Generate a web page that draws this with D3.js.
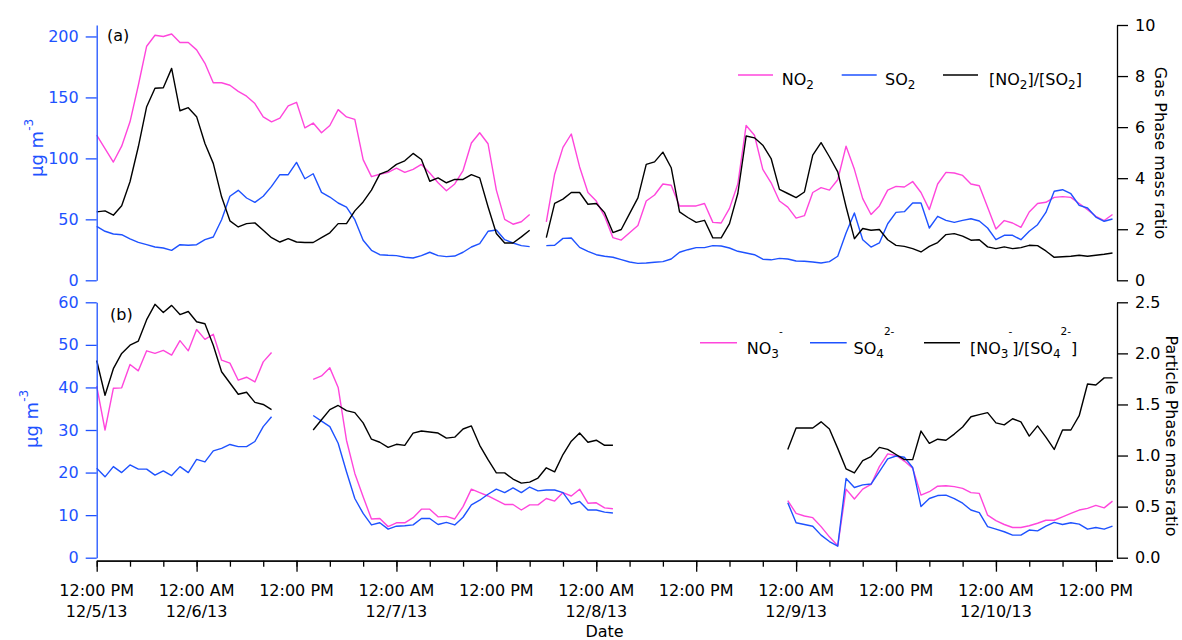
<!DOCTYPE html>
<html><head><meta charset="utf-8">
<script src="https://cdn.jsdelivr.net/npm/d3@7"></script>
<style>body{margin:0;background:#fff} text{font-family:"DejaVu Sans",sans-serif}</style>
</head><body><svg id="c" width="1182" height="640"></svg>
<script>
// hourly data starting 12:00 PM 12/5/13
const startTime = new Date(2013, 11, 5, 12, 0);
const endTime = new Date(2013, 11, 10, 14, 0);

const no2 = [
119,108,97,110,130,160,192,201,200,202,
195,195,189,178,162,162,160,155,151,145,
134,130,133,143,146,125,129,121,127,140,
134,132,99,85,87,88.5,92,88.5,91,95,
88,80,73.5,79,90,112.6,121,112,74,50,
46,48,54,null,48,87,109,120,93,72,
65,52.5,35,33,39,45,65,70,79,78,
61,61,61,63,47.5,47,59,79,127,119,
91,80,65,60,51,53,72,76,74,82.5,
110,91,67,54,61,74,77,76.5,81,72,
58,79,88.5,88,86,79,77.6,60,42,49,
47,43.4,56,63,64,68,68.6,68,63,58,
52.5,49,54];

const so2 = [
44.3,40.2,38,37.4,33.9,31.1,29.2,27.3,26.5,24.6,
29.2,28.7,29.2,33.3,35.5,49.7,68.9,73.8,67.5,63.9,
68.9,77,86.6,86.6,96.7,83.3,87.4,72.1,68.3,63.4,
60.1,49.7,32.8,24.6,21,20.5,20.2,18.9,18.3,20.2,
23,20.2,19.4,19.9,23,27.3,30,40.2,41.3,33.3,
30.6,28.4,27.6,null,28.4,28.7,34.4,34.7,27,23.8,
21,19.7,18.9,16.9,15,13.9,14.2,14.8,15.3,17.5,
23,25.1,26.8,26.8,28.4,28.1,26.5,23.8,22.4,21,
17.3,16.8,18,17.5,15.8,15.6,15,14.2,15.3,19.7,
38.8,55.2,33.3,27.3,30.6,46.4,55.7,56.3,63.4,63.4,
42.9,52.5,49.2,47.5,49.2,50.5,48.6,42.9,33.3,36.9,
36.9,33.3,40.2,45.6,55.7,73,74.3,71,61.5,59.3,
51.9,48.4,50.3];

const gasRatio = [
2.68,2.72,2.55,2.92,3.86,5.23,6.8,7.52,7.54,8.3,
6.64,6.76,6.41,5.36,4.58,3.27,2.33,2.09,2.22,2.25,
1.96,1.67,1.5,1.63,1.5,1.48,1.48,1.67,1.86,2.22,
2.22,2.72,3.07,3.53,4.16,4.29,4.54,4.68,4.97,4.73,
3.88,4.01,3.82,3.95,3.95,4.14,4.01,2.88,1.83,1.46,
1.46,1.7,1.96,null,1.67,3.01,3.18,3.44,3.44,2.98,
3.01,2.65,1.87,1.99,2.61,3.23,4.54,4.64,5.02,4.41,
2.68,2.46,2.27,2.35,1.66,1.66,2.22,3.4,5.65,5.58,
5.29,4.77,3.56,3.4,3.24,3.46,4.9,5.39,4.84,4.25,
2.88,1.63,2.03,1.96,1.99,1.59,1.37,1.33,1.24,1.11,
1.33,1.48,1.79,1.83,1.73,1.57,1.59,1.31,1.24,1.31,
1.24,1.28,1.37,1.36,1.15,0.9,0.92,0.94,0.98,0.94,
0.98,1.02,1.07];

const no3 = [
40.3,30,39.8,39.9,45.4,43.9,48.6,48,48.7,47.6,
51,48.6,53.6,51.3,52.5,46.4,45.7,41.7,42.4,41.3,
46,48.2,null,null,null,null,41.9,42.7,44.6,40,
27.6,19.8,14.3,9.1,9.2,7.3,8.2,8.2,9.4,11.4,
11.4,9.6,9.7,9.1,12,16.1,15.3,14.5,13.5,12.5,
12.5,11.2,12.4,12.4,13.9,13.3,15.3,14.5,16.1,12.8,
12.9,11.7,11.5,null,null,null,null,null,null,null,
null,null,null,null,null,null,null,null,null,null,
null,null,null,13.4,10.4,9.8,9.4,7.3,4.9,2.8,
16.1,13.8,16.1,17.2,21.4,24.4,24,22.7,21,14.7,
15.5,16.8,16.9,16.7,16.3,15.3,15.1,10,8.7,7.8,
7.1,7.1,7.5,8.1,8.8,8.8,9.6,10.4,11.2,11.6,
12.3,11.7,13.3];

const so4 = [
21,19,21.4,20,21.8,20.8,20.8,19.4,20.4,19.3,
21.4,20,23.1,22.5,25.1,25.7,26.6,26.1,26.1,27.3,
30.8,33.1,null,null,null,null,33.4,32.1,30.8,26.9,
20.2,13.9,10.4,7.7,8.2,6.7,7.4,7.5,7.7,9.2,
9.2,7.8,8.3,7.7,9.5,12.4,13.5,14.9,16.1,15.3,
16.4,15.3,16.6,15.7,15.9,15.9,15.3,12.6,13.2,11.2,
11.2,10.7,10.5,null,null,null,null,null,null,null,
null,null,null,null,null,null,null,null,null,null,
null,null,null,12.9,8.2,7.8,7.4,5.3,3.8,2.7,
18.6,16.5,17.1,17.3,20.2,23.2,23.9,23.6,21.2,12,
13.9,14.6,14.7,13.9,12.8,11.2,10.6,7.3,6.7,6.1,
5.3,5.3,6.5,6.3,7.4,8.3,7.8,8.2,7.9,6.7,
7.1,6.7,7.4];

const partRatio = [
1.93,1.59,1.85,2.0,2.08,2.12,2.33,2.48,2.4,2.47,
2.38,2.41,2.31,2.29,2.08,1.82,1.71,1.6,1.62,1.52,
1.5,1.45,null,null,null,null,1.25,1.35,1.45,1.49,
1.44,1.42,1.32,1.16,1.13,1.08,1.11,1.1,1.22,1.24,
1.23,1.22,1.17,1.18,1.26,1.29,1.1,0.96,0.83,0.83,
0.77,0.73,0.74,0.78,0.88,0.84,1.01,1.14,1.22,1.13,
1.15,1.1,1.1,null,null,null,null,null,null,null,
null,null,null,null,null,null,null,null,null,null,
null,null,null,1.06,1.27,1.27,1.27,1.33,1.26,1.07,
0.87,0.83,0.95,0.99,1.08,1.06,1.01,0.96,0.96,1.24,
1.12,1.16,1.15,1.21,1.28,1.38,1.4,1.42,1.32,1.3,
1.36,1.33,1.19,1.29,1.18,1.06,1.25,1.25,1.39,1.7,
1.69,1.76,1.76];

const gasTicksL = [0,50,100,150,200];
const gasTicksR = [0,2,4,6,8,10];
const partTicksL = [0,10,20,30,40,50,60];
const partTicksR = [0,0.5,1.0,1.5,2.0,2.5];

const PINK = "#ff46dc", BLUE = "#1e52ff", BLACK = "#000";
const FS = 16;
const svg = d3.select("#c");
const times = no2.map((d, i) => d3.timeHour.offset(startTime, i));

const x = d3.scaleTime().domain([startTime, endTime]).range([96.7, 1112.5]);
const yA = d3.scaleLinear().domain([0, 209.4]).range([280.3, 25]);
const yAR = d3.scaleLinear().domain([0, 10]).range([280.3, 25]);
const yB = d3.scaleLinear().domain([0, 60]).range([557.7, 302.3]);
const yBR = d3.scaleLinear().domain([0, 2.5]).range([557.7, 302.3]);

function drawSeries(vals, ys, color) {
  const line = d3.line().defined(d => d != null).x((d, i) => x(times[i])).y(d => ys(d));
  svg.append("path").datum(vals).attr("d", line).attr("fill", "none")
    .attr("stroke", color).attr("stroke-width", 1.4).attr("stroke-linejoin", "round");
}
drawSeries(no2, yA, PINK);
drawSeries(so2, yA, BLUE);
drawSeries(gasRatio, yAR, BLACK);
drawSeries(no3, yB, PINK);
drawSeries(so4, yB, BLUE);
drawSeries(partRatio, yBR, BLACK);

function styleAxis(g, color) {
  g.selectAll("path,line").attr("stroke", color).attr("stroke-width", 1.3);
  g.selectAll("text").attr("fill", color).style("font-size", FS + "px").style("font-family", '"DejaVu Sans",sans-serif');
}
// left axes
styleAxis(svg.append("g").attr("transform", "translate(96.7,0)")
  .call(d3.axisLeft(yA).tickValues(gasTicksL).tickSize(11).tickSizeOuter(0).tickPadding(7)), BLUE);
styleAxis(svg.append("g").attr("transform", "translate(96.7,0)")
  .call(d3.axisLeft(yB).tickValues(partTicksL).tickSize(11).tickSizeOuter(0).tickPadding(7)), BLUE);
// right axes
styleAxis(svg.append("g").attr("transform", "translate(1117,0)")
  .call(d3.axisRight(yAR).tickValues(gasTicksR).tickSize(11).tickSizeOuter(0).tickPadding(7)), BLACK);
styleAxis(svg.append("g").attr("transform", "translate(1117,0)")
  .call(d3.axisRight(yBR).tickValues(partTicksR).tickFormat(d3.format(".1f")).tickSize(11).tickSizeOuter(0).tickPadding(7)), BLACK);

// x axis
const xAxisY = 560.7;
const minorG = svg.append("g").attr("transform", `translate(0,${xAxisY})`)
  .call(d3.axisBottom(x).ticks(d3.timeHour.every(4)).tickSize(6).tickSizeOuter(0).tickFormat(""));
styleAxis(minorG, BLACK);
const majorTicks = x.ticks(d3.timeHour.every(12));
const majorG = svg.append("g").attr("transform", `translate(0,${xAxisY})`)
  .call(d3.axisBottom(x).tickValues(majorTicks).tickSize(11).tickSizeOuter(0).tickFormat(""));
styleAxis(majorG, BLACK);
const fTime = d3.timeFormat("%-I:%M %p"), fDate = d3.timeFormat("%-m/%-d/%y");
majorTicks.forEach((t, i) => {
  svg.append("text").attr("x", x(t)).attr("y", 596).attr("text-anchor", "middle")
    .style("font-size", FS + "px").text(fTime(t));
  if (t.getHours() === 0 || i === 0) {
    svg.append("text").attr("x", x(t)).attr("y", 617).attr("text-anchor", "middle")
      .style("font-size", FS + "px").text(fDate(t));
  }
});
svg.append("text").attr("x", 604.6).attr("y", 637).attr("text-anchor", "middle")
  .style("font-size", FS + "px").text("Date");

// rich text helper
function rich(x0, y0, parts, opts = {}) {
  const t = svg.append("text").attr("x", x0).attr("y", y0).style("font-size", (opts.size || FS) + "px");
  if (opts.fill) t.attr("fill", opts.fill);
  if (opts.transform) t.attr("transform", opts.transform).attr("x", 0).attr("y", 0);
  if (opts.anchor) t.attr("text-anchor", opts.anchor);
  let cur = 0;
  parts.forEach(p => {
    const off = p.sub ? 4 : p.sup ? (opts.supOff || -19) : 0;
    const ts = t.append("tspan").text(p.t).attr("dy", off - cur);
    if (p.sub) ts.style("font-size", "12px");
    if (p.sup) ts.style("font-size", (opts.supSize || 10.5) + "px");
    cur = off;
  });
  return t;
}

// panel labels
svg.append("text").attr("x", 107).attr("y", 41).style("font-size", FS + "px").text("(a)");
svg.append("text").attr("x", 110).attr("y", 320).style("font-size", FS + "px").text("(b)");

// left axis titles
rich(0, 0, [{t: "\u03bcg m"}, {t: "-3", sup: true}],
  {fill: BLUE, size: 18, transform: "translate(42.7,177) rotate(-90)", supOff: -10, supSize: 12});
rich(0, 0, [{t: "\u03bcg m"}, {t: "-3", sup: true}],
  {fill: BLUE, size: 18, transform: "translate(38.3,448) rotate(-90)", supOff: -10, supSize: 12});

// right axis titles
svg.append("text").attr("transform", "translate(1155,153) rotate(90)").attr("text-anchor", "middle")
  .style("font-size", FS + "px").text("Gas Phase mass ratio");
svg.append("text").attr("transform", "translate(1166,436) rotate(90)").attr("text-anchor", "middle")
  .style("font-size", FS + "px").text("Particle Phase mass ratio");

// legends
function legLine(x1, x2, y, color) {
  svg.append("line").attr("x1", x1).attr("x2", x2).attr("y1", y).attr("y2", y)
    .attr("stroke", color).attr("stroke-width", 1.4);
}
legLine(738, 773, 75, PINK);
rich(781.7, 85, [{t: "NO"}, {t: "2", sub: true}]);
legLine(841.7, 876.7, 75, BLUE);
rich(885, 85, [{t: "SO"}, {t: "2", sub: true}]);
legLine(943, 978, 75, BLACK);
rich(989, 85, [{t: "[NO"}, {t: "2", sub: true}, {t: "]/[SO"}, {t: "2", sub: true}, {t: "]"}]);

legLine(700, 737, 342.7, PINK);
rich(746.7, 354.3, [{t: "NO"}, {t: "3", sub: true}, {t: "-", sup: true}]);
legLine(810, 846.7, 342.7, BLUE);
rich(853.5, 354.3, [{t: "SO"}, {t: "4", sub: true}, {t: "2-", sup: true}]);
legLine(924, 960, 342.7, BLACK);
rich(970, 354.3, [{t: "[NO"}, {t: "3", sub: true}, {t: "-", sup: true}, {t: "]/[SO"}, {t: "4", sub: true}, {t: "2-", sup: true}, {t: "]"}]);
</script>
</body></html>
